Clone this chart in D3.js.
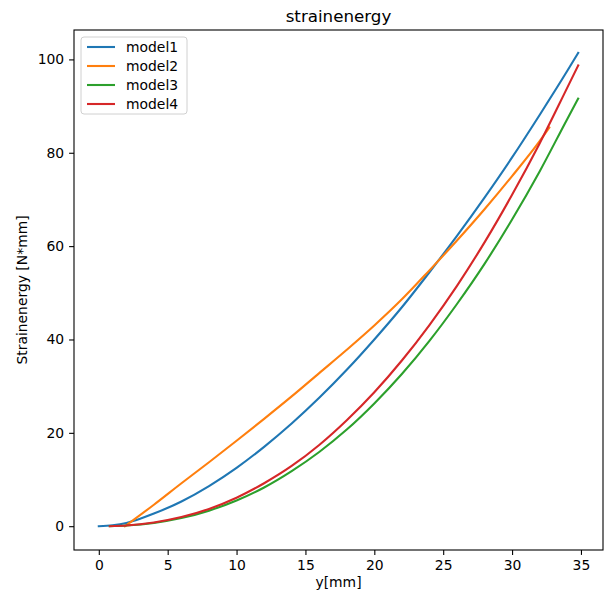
<!DOCTYPE html>
<html>
<head>
<meta charset="utf-8">
<script src="https://cdn.jsdelivr.net/npm/d3@7"></script>
<style>
  html, body { margin: 0; padding: 0; background: #fff; }
  svg { display: block; font-family: "DejaVu Sans", sans-serif; }
</style>
</head>
<body>
<svg id="chart" width="606" height="594"></svg>
<script>
const seriesNames = ['model1', 'model2', 'model3', 'model4'];
const seriesColors = ['#1f77b4', '#ff7f0e', '#2ca02c', '#d62728'];

const model1X = [0, 1, 2, 3, 4, 6, 8, 10, 12, 14, 16, 18, 20, 22, 24, 26, 28, 30, 32, 34, 34.8];
const model1Y = [0, 0.2, 0.7, 1.6, 2.7, 5.3, 8.6, 12.5, 17.0, 22.0, 27.5, 33.5, 40.0, 46.9, 54.4, 62.2, 70.4, 79.0, 88.1, 97.5, 101.4];

const model2X = [1.9, 2.5, 4, 6, 8, 10, 12, 14, 16, 18, 20, 22, 24, 26, 28, 30, 32, 32.7];
const model2Y = [0, 1.3, 4.6, 9.2, 13.7, 18.3, 23.0, 27.8, 32.8, 37.8, 43.0, 48.6, 54.8, 61.2, 67.9, 75.0, 82.5, 85.4];

const model3X = [0.8, 2, 4, 6, 8, 10, 12, 14, 16, 18, 20, 22, 24, 26, 28, 30, 32, 34, 34.8];
const model3Y = [0, 0.15, 0.7, 1.74, 3.33, 5.5, 8.3, 11.8, 15.9, 20.7, 26.3, 32.6, 39.7, 47.6, 56.2, 65.7, 76.0, 87.2, 91.6];

const model4X = [0.8, 2, 4, 6, 8, 10, 12, 14, 16, 18, 20, 22, 24, 26, 28, 30, 32, 34, 34.8];
const model4Y = [0, 0.15, 0.8, 1.95, 3.7, 6.1, 9.2, 12.9, 17.4, 22.7, 28.7, 35.5, 43.1, 51.5, 60.8, 71.0, 82.0, 93.9, 98.7];

const xTicks = [0, 5, 10, 15, 20, 25, 30, 35];
const yTicks = [0, 20, 40, 60, 80, 100];

const series = [
  { name: seriesNames[0], color: seriesColors[0], xs: model1X, ys: model1Y },
  { name: seriesNames[1], color: seriesColors[1], xs: model2X, ys: model2Y },
  { name: seriesNames[2], color: seriesColors[2], xs: model3X, ys: model3Y },
  { name: seriesNames[3], color: seriesColors[3], xs: model4X, ys: model4Y }
];

const svg = d3.select('#chart');
const margin = { left: 74, right: 3, top: 30, bottom: 44 };
const width = 606, height = 594;

const x = d3.scaleLinear().domain([-1.8, 36.6]).range([margin.left, width - margin.right]);
const y = d3.scaleLinear().domain([-5.1, 106.3]).range([height - margin.bottom, margin.top]);

const fontSize = 13.9;

// axes
const xAxis = svg.append('g')
  .attr('transform', 'translate(0,' + (height - margin.bottom) + ')')
  .call(d3.axisBottom(x).tickValues(xTicks).tickSize(4.9).tickPadding(4.9).tickSizeOuter(0));
const yAxis = svg.append('g')
  .attr('transform', 'translate(' + margin.left + ',0)')
  .call(d3.axisLeft(y).tickValues(yTicks).tickSize(4.9).tickPadding(4.9).tickSizeOuter(0));

[xAxis, yAxis].forEach(function (g) {
  g.select('.domain').remove();
  g.selectAll('line').attr('stroke', '#000').attr('stroke-width', 1.1);
  g.selectAll('text')
    .attr('font-family', '"DejaVu Sans", sans-serif')
    .attr('font-size', fontSize)
    .attr('fill', '#000');
});

// lines
const line = d3.line()
  .x(function (d) { return x(d[0]); })
  .y(function (d) { return y(d[1]); })
  .curve(d3.curveMonotoneX);

svg.append('g')
  .selectAll('path')
  .data(series)
  .enter()
  .append('path')
  .attr('d', function (s) { return line(s.xs.map(function (v, i) { return [v, s.ys[i]]; })); })
  .attr('fill', 'none')
  .attr('stroke', function (s) { return s.color; })
  .attr('stroke-width', 2.1)
  .attr('stroke-linecap', 'square');

// frame
svg.append('rect')
  .attr('x', margin.left)
  .attr('y', margin.top)
  .attr('width', width - margin.left - margin.right)
  .attr('height', height - margin.top - margin.bottom)
  .attr('fill', 'none')
  .attr('stroke', '#000')
  .attr('stroke-width', 1.1);

// title and labels
svg.append('text')
  .attr('x', (margin.left + width - margin.right) / 2)
  .attr('y', margin.top - 8.5)
  .attr('text-anchor', 'middle')
  .attr('font-size', 16.7)
  .text('strainenergy');

svg.append('text')
  .attr('x', (margin.left + width - margin.right) / 2)
  .attr('y', 587)
  .attr('text-anchor', 'middle')
  .attr('font-size', fontSize)
  .text('y[mm]');

svg.append('text')
  .attr('transform', 'translate(27,' + ((margin.top + height - margin.bottom) / 2) + ') rotate(-90)')
  .attr('text-anchor', 'middle')
  .attr('font-size', fontSize)
  .text('Strainenergy [N*mm]');

// legend
const legend = svg.append('g').attr('transform', 'translate(81,37)');
legend.append('rect')
  .attr('width', 106)
  .attr('height', 77)
  .attr('rx', 3)
  .attr('fill', '#fff')
  .attr('fill-opacity', 0.8)
  .attr('stroke', '#d0d0d0')
  .attr('stroke-width', 1);

const rows = legend.selectAll('g.row')
  .data(series)
  .enter()
  .append('g')
  .attr('class', 'row')
  .attr('transform', function (d, i) { return 'translate(0,' + (10 + i * 19) + ')'; });
rows.append('line')
  .attr('x1', 6).attr('x2', 34)
  .attr('stroke', function (d) { return d.color; })
  .attr('stroke-width', 2.1);
rows.append('text')
  .attr('x', 45)
  .attr('dy', '0.35em')
  .attr('font-size', fontSize)
  .text(function (d) { return d.name; });
</script>
</body>
</html>
